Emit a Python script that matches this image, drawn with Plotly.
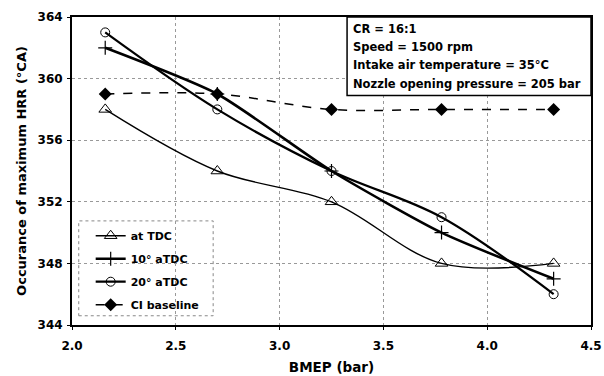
import plotly.graph_objects as go

bmep = [2.16, 2.7, 3.25, 3.78, 4.32]
at_tdc = [358, 354, 352, 348, 348]
atdc_10 = [362, 359, 354, 350, 347]
atdc_20 = [363, 358, 354, 351, 346]
ci_baseline = [359, 359, 358, 358, 358]

x_ticks = [2.0, 2.5, 3.0, 3.5, 4.0, 4.5]
y_ticks = [344, 348, 352, 356, 360, 364]
info_lines = ["CR = 16:1", "Speed = 1500 rpm", "Intake air temperature = 35°C",
              "Nozzle opening pressure = 205 bar"]

FONT = "DejaVu Sans, sans-serif"

fig = go.Figure()
fig.add_trace(go.Scatter(x=bmep, y=at_tdc, name="at TDC", mode="lines+markers", legendgroup="a",
                         line=dict(color="black", width=1.4, shape="spline", smoothing=1),
                         marker=dict(symbol="triangle-up-open", size=11, color="black",
                                     line=dict(width=1))))
fig.add_trace(go.Scatter(x=bmep, y=atdc_10, name="10° aTDC", mode="lines+markers", legendgroup="b",
                         line=dict(color="black", width=2.6, shape="spline", smoothing=0.6),
                         marker=dict(symbol="cross-thin", size=10, color="black",
                                     line=dict(width=1.2, color="black"))))
fig.add_trace(go.Scatter(x=bmep, y=atdc_20, name="20° aTDC", mode="lines+markers", legendgroup="c",
                         line=dict(color="black", width=2.2, shape="spline", smoothing=1),
                         marker=dict(symbol="circle-open", size=9, color="black",
                                     line=dict(width=1))))
fig.add_trace(go.Scatter(x=bmep, y=ci_baseline, name="CI baseline", mode="lines+markers", legendgroup="d",
                         line=dict(color="black", width=1.5, dash="dash", shape="spline", smoothing=1),
                         marker=dict(symbol="diamond", size=10, color="black")))

# legend frame (dotted)
fig.add_shape(type="rect", xref="paper", yref="paper", x0=0.013, x1=0.272, y0=0.03, y1=0.338,
              line=dict(color="#888", width=1, dash="dot"), fillcolor="white", layer="below")

# info box
fig.add_shape(type="rect", xref="paper", yref="paper", x0=0.53, x1=1.0, y0=0.745, y1=1.0,
              line=dict(color="black", width=1.5), fillcolor="white", layer="above")
for i, t in enumerate(info_lines):
    fig.add_annotation(text=t, xref="paper", yref="paper", x=0.537, y=0.961 - i * 0.059,
                       xanchor="left", yanchor="middle", showarrow=False,
                       font=dict(family=FONT, size=11.5, color="black", weight="bold"))

fig.update_layout(
    width=604, height=376,
    margin=dict(l=72, r=13, t=17, b=51),
    paper_bgcolor="white", plot_bgcolor="white",
    font=dict(family=FONT, size=12, color="black", weight="bold"),
    showlegend=True,
    legend=dict(x=0.036, y=0.337, xanchor="left", yanchor="top", bgcolor="rgba(0,0,0,0)",
                borderwidth=0, font=dict(family=FONT, size=11, color="black", weight="bold"),
                itemwidth=30, tracegroupgap=4),
)
fig.update_xaxes(range=[2.0, 4.5], tickvals=x_ticks, ticktext=[f"{v:.1f}" for v in x_ticks],
                 showline=True, linecolor="black", linewidth=2, mirror=True, automargin=False,
                 ticks="outside", ticklen=3, tickcolor="black", ticklabelstandoff=6,
                 showgrid=True, gridcolor="#999", gridwidth=1, griddash="dot",
                 zeroline=False,
                 title=dict(text="BMEP (bar)", font=dict(family=FONT, size=13.5, weight="bold"), standoff=10),
                 tickfont=dict(family=FONT, size=12, weight="bold"))
fig.update_yaxes(range=[344, 364], tickvals=y_ticks,
                 showline=True, linecolor="black", linewidth=2, mirror=True, automargin=False,
                 ticks="outside", ticklen=3, tickcolor="black", ticklabelstandoff=2,
                 showgrid=True, gridcolor="#999", gridwidth=1, griddash="dot",
                 zeroline=False,
                 title=dict(text="Occurance of maximum HRR (°CA)", font=dict(family=FONT, size=13, weight="bold"), standoff=8),
                 tickfont=dict(family=FONT, size=12, weight="bold"))

fig.write_html("out.html")
